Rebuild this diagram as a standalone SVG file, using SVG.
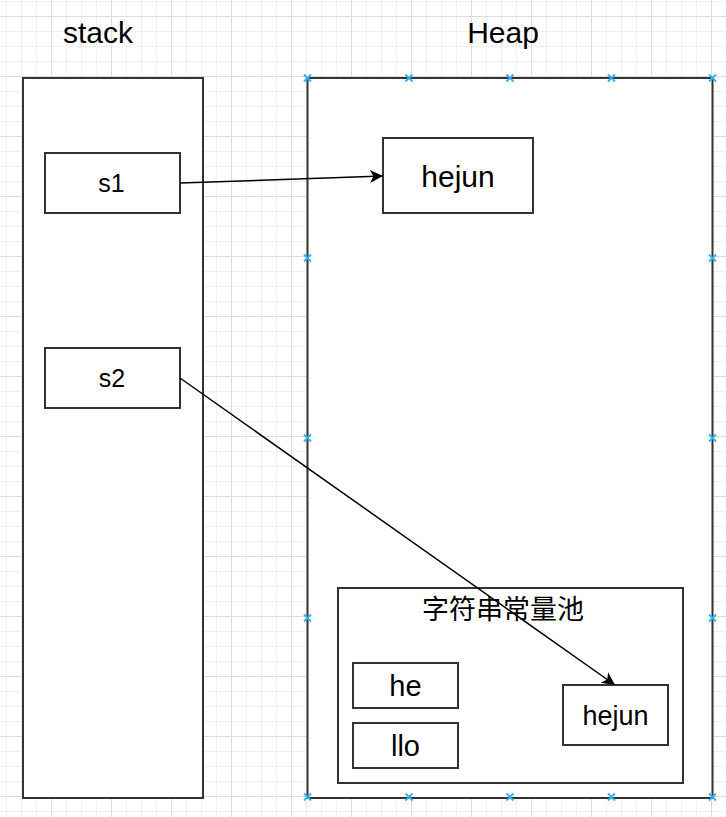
<svg xmlns="http://www.w3.org/2000/svg" width="726" height="817" viewBox="0 0 726 817">
<style>
.box{fill:#fff;stroke:#333;stroke-width:2}
.t{font-family:"Liberation Sans",Arial,"Noto Sans CJK SC",sans-serif;fill:#000;text-anchor:middle}
.edge{fill:none;stroke:#000;stroke-width:1.5}
.mk{stroke:#33b0ee;stroke-width:1.8;fill:none}
</style>
<defs>
<pattern id="grid" patternUnits="userSpaceOnUse" x="51" y="16" width="60" height="60">
<path d="M15.5,0V60M30.5,0V60M45.5,0V60M0,15.5H60M0,30.5H60M0,45.5H60" stroke="#f0f0f0" stroke-width="1" fill="none"/>
<path d="M0.5,0V60M0,0.5H60" stroke="#dcdcdc" stroke-width="1" fill="none"/>
</pattern>
<marker id="arr" viewBox="-14 -7 15 14" refX="0" refY="0" markerWidth="15" markerHeight="14" orient="auto" markerUnits="userSpaceOnUse">
<path d="M0,0 L-13,-6.5 L-9.5,0 L-13,6.5 Z" fill="#000"/>
</marker>
<path id="x" d="M-3.5,-3.5L3.5,3.5M-3.5,3.5L3.5,-3.5"/>
</defs>
<rect width="726" height="817" fill="#fff"/>
<rect width="726" height="817" fill="url(#grid)"/>

<g id="stack-label"><text class="t" x="98" y="42.5" font-size="30">stack</text></g>
<g id="heap-label"><text class="t" x="503" y="42.5" font-size="30">Heap</text></g>

<g id="stack"><rect class="box" x="23" y="78" width="180" height="720"/></g>
<g id="heap"><rect class="box" x="307.5" y="78" width="405" height="720"/></g>

<g id="s1"><rect class="box" x="45" y="153" width="135" height="60"/><text class="t" x="111.5" y="192" font-size="25">s1</text></g>
<g id="s2"><rect class="box" x="45" y="348" width="135" height="60"/><text class="t" x="112" y="387" font-size="25">s2</text></g>
<g id="hejun-heap"><rect class="box" x="383" y="138" width="150" height="75"/><text class="t" x="458" y="186.5" font-size="30">hejun</text></g>

<g id="pool"><rect class="box" x="338" y="588" width="345" height="195"/><text class="t" x="503" y="619" font-size="27">字符串常量池</text></g>
<g id="he"><rect class="box" x="353" y="663" width="105" height="45"/><text class="t" x="405.5" y="696" font-size="29">he</text></g>
<g id="llo"><rect class="box" x="353" y="723" width="105" height="45"/><text class="t" x="405.5" y="756" font-size="29">llo</text></g>
<g id="hejun-pool"><rect class="box" x="563" y="685" width="105" height="60"/><text class="t" x="615.5" y="725" font-size="27">hejun</text></g>

<g id="markers" class="mk">
<use href="#x" x="307.5" y="78"/><use href="#x" x="409" y="78"/><use href="#x" x="510" y="78"/><use href="#x" x="611.5" y="78"/><use href="#x" x="712.5" y="78"/>
<use href="#x" x="307.5" y="797"/><use href="#x" x="409" y="797"/><use href="#x" x="510" y="797"/><use href="#x" x="611.5" y="797"/><use href="#x" x="712.5" y="797"/>
<use href="#x" x="307.5" y="258"/><use href="#x" x="307.5" y="438"/><use href="#x" x="307.5" y="618"/>
<use href="#x" x="712.5" y="258"/><use href="#x" x="712.5" y="438"/><use href="#x" x="712.5" y="618"/>
</g>

<g id="connectors">
<path class="edge" d="M180,183 L383,176" marker-end="url(#arr)"/>
<path class="edge" d="M180,378 L615,685" marker-end="url(#arr)"/>
</g>
</svg>
